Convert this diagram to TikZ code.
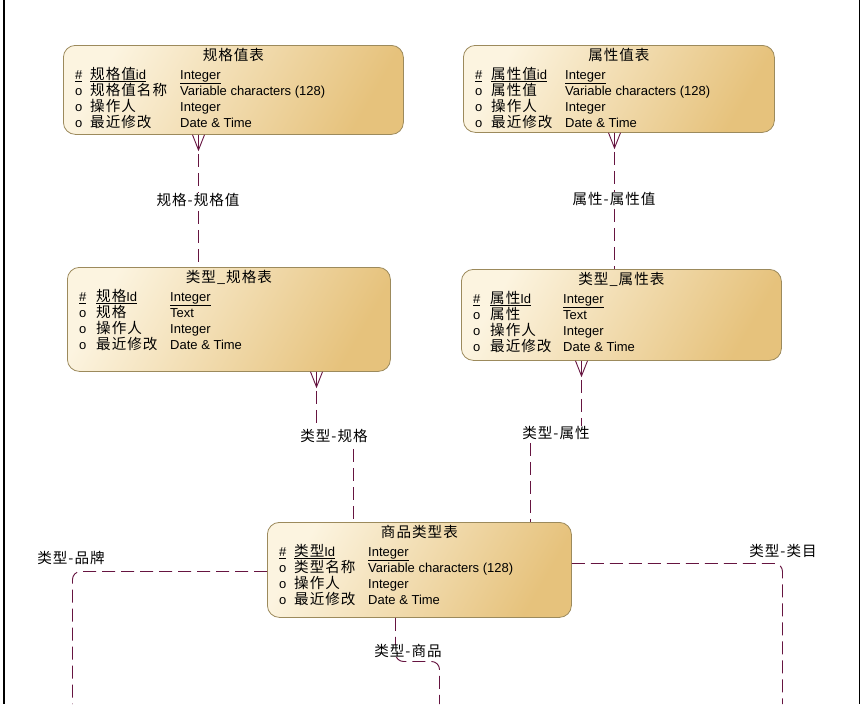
\documentclass[tikz,border=0pt]{standalone}
\usepackage{fontspec}
\setmainfont{Liberation Sans}
\newfontfamily\cjk[Scale=1.12,LetterSpace=7]{Noto Sans CJK SC}
\usetikzlibrary{positioning}
\definecolor{erlight}{HTML}{FCF4E0}
\definecolor{erdark}{HTML}{E6C27C}
\definecolor{erborder}{HTML}{9C8A5C}
\definecolor{erline}{HTML}{661440}
\newcommand\zh[1]{\raisebox{0pt}[11pt][0.5pt]{\cjk #1}}
\newcommand\erfont{\fontsize{13pt}{16pt}\selectfont}
\tikzset{
  entity/.style={draw=erborder,line width=0.8pt,rounded corners=12pt,
    top color=erlight,bottom color=erdark,shading angle=60,
    inner sep=0pt,anchor=north west},
  etitle/.style={inner sep=0pt,font=\erfont},
  eattr/.style={inner sep=0pt,anchor=north west,font=\erfont,align=left},
  rel/.style={draw=erline,line width=0.95pt,dash pattern=on 13pt off 6pt},
  relfoot/.style={draw=erline,line width=0.9pt},
  rellabel/.style={fill=white,inner sep=1.5pt,font=\erfont}
}

\begin{document}
\begin{tikzpicture}[x=1pt,y=-1pt]
\useasboundingbox (0,0) rectangle (866,704);
\draw[line width=1.6pt] (4,0) -- (4,704) (859.5,0) -- (859.5,704);

% entities
\node[entity,minimum width=340pt,minimum height=89pt] (ggz) at (63,45) {};
\node[etitle,below=4pt of ggz.north] (ggz-title) {\zh{规格值表}};
\node[eattr] (ggz-attr) at ([xshift=12pt,yshift=-23pt]ggz.north west) {%
\begin{tabular}{@{}p{15pt}@{}p{90pt}@{}l@{}}
\underline{\#} & \underline{\zh{规格值}id} & \underline{Integer}\\
o & \zh{规格值名称} & Variable characters (128)\\
o & \zh{操作人} & Integer\\
o & \zh{最近修改} & Date \& Time
\end{tabular}};

\node[entity,minimum width=311pt,minimum height=87pt] (sxz) at (463,45) {};
\node[etitle,below=4pt of sxz.north] (sxz-title) {\zh{属性值表}};
\node[eattr] (sxz-attr) at ([xshift=12pt,yshift=-23pt]sxz.north west) {%
\begin{tabular}{@{}p{16pt}@{}p{74pt}@{}l@{}}
\underline{\#} & \underline{\zh{属性值}id} & \underline{Integer}\\
o & \zh{属性值} & Variable characters (128)\\
o & \zh{操作人} & Integer\\
o & \zh{最近修改} & Date \& Time
\end{tabular}};

\node[entity,minimum width=323pt,minimum height=104pt] (lgg) at (67,267) {};
\node[etitle,below=4pt of lgg.north] (lgg-title) {\zh{类型\_规格表}};
\node[eattr] (lgg-attr) at ([xshift=12pt,yshift=-23pt]lgg.north west) {%
\begin{tabular}{@{}p{17pt}@{}p{74pt}@{}l@{}}
\underline{\#} & \underline{\zh{规格}Id} & \underline{Integer}\\
o & \zh{规格} & Text\\
o & \zh{操作人} & Integer\\
o & \zh{最近修改} & Date \& Time
\end{tabular}};

\node[entity,minimum width=320pt,minimum height=91pt] (lsx) at (461,269) {};
\node[etitle,below=4pt of lsx.north] (lsx-title) {\zh{类型\_属性表}};
\node[eattr] (lsx-attr) at ([xshift=12pt,yshift=-23pt]lsx.north west) {%
\begin{tabular}{@{}p{17pt}@{}p{73pt}@{}l@{}}
\underline{\#} & \underline{\zh{属性}Id} & \underline{Integer}\\
o & \zh{属性} & Text\\
o & \zh{操作人} & Integer\\
o & \zh{最近修改} & Date \& Time
\end{tabular}};

\node[entity,minimum width=304pt,minimum height=95pt] (splx) at (267,522) {};
\node[etitle,below=4pt of splx.north] (splx-title) {\zh{商品类型表}};
\node[eattr] (splx-attr) at ([xshift=12pt,yshift=-23pt]splx.north west) {%
\begin{tabular}{@{}p{15pt}@{}p{74pt}@{}l@{}}
\underline{\#} & \underline{\zh{类型}Id} & \underline{Integer}\\
o & \zh{类型名称} & Variable characters (128)\\
o & \zh{操作人} & Integer\\
o & \zh{最近修改} & Date \& Time
\end{tabular}};

% loose ends at the bottom edge
\coordinate (pinpai) at (72.5,704);
\coordinate (leimu) at (782.5,704);
\coordinate (shangpin) at (439.5,704);

% references
\draw[rel] (ggz.south -| 198.5,0) -- (lgg.north -| 198.5,0);
\draw[relfoot] (ggz.south -| 192.5,0) -- (198.5,150) -- (ggz.south -| 204.5,0)
  (ggz.south -| 198.5,0) -- (198.5,150);
\node[rellabel] (r-gg) at (198,200) {\zh{规格-规格值}};

\draw[rel] (sxz.south -| 614.5,0) -- (lsx.north -| 614.5,0);
\draw[relfoot] (sxz.south -| 608.5,0) -- (614.5,148) -- (sxz.south -| 620.5,0)
  (sxz.south -| 614.5,0) -- (614.5,148);
\node[rellabel] (r-sx) at (614,199) {\zh{属性-属性值}};

\draw[rel] (lgg.south -| 316.5,0) -- (316.5,436) -- (353.5,436) -- (splx.north -| 353.5,0);
\draw[relfoot] (lgg.south -| 310.5,0) -- (316.5,387) -- (lgg.south -| 322.5,0)
  (lgg.south -| 316.5,0) -- (316.5,387);
\node[rellabel] (r-lgg) at (334,436) {\zh{类型-规格}};

\draw[rel] (lsx.south -| 581.5,0) -- (581.5,433) -- (530.5,433) -- (splx.north -| 530.5,0);
\draw[relfoot] (lsx.south -| 575.5,0) -- (581.5,376) -- (lsx.south -| 587.5,0)
  (lsx.south -| 581.5,0) -- (581.5,376);
\node[rellabel] (r-lsx) at (556,433) {\zh{类型-属性}};

\draw[rel,rounded corners=8pt] (splx.west |- 0,571.5) -- (72.5,571.5) -- (pinpai);
\node[rellabel] (r-pp) at (71,558) {\zh{类型-品牌}};

\draw[rel,rounded corners=8pt] (splx.east |- 0,563.5) -- (782.5,563.5) -- (leimu);
\node[rellabel] (r-lm) at (783,551) {\zh{类型-类目}};

\draw[rel,rounded corners=8pt] (splx.south -| 395.5,0) -- (395.5,661.5) -- (439.5,661.5) -- (shangpin);
\node[rellabel,inner ysep=0pt] (r-sp) at (408,651) {\zh{类型-商品}};
\end{tikzpicture}
\end{document}
